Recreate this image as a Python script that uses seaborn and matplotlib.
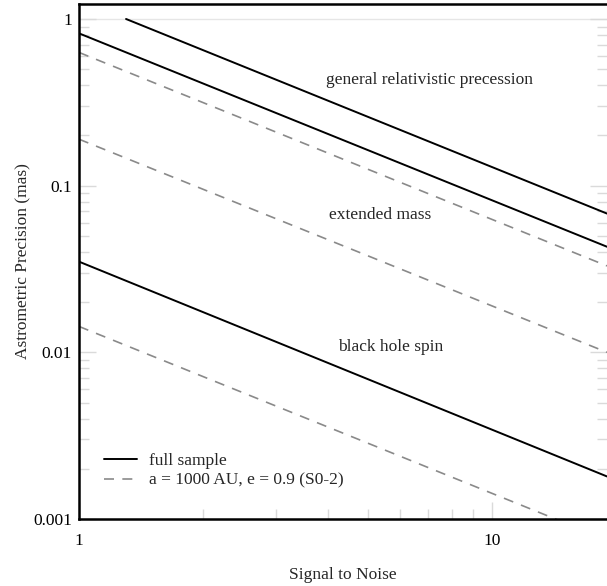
import numpy as np
import pandas as pd
import matplotlib
matplotlib.use("Agg")
import matplotlib.pyplot as plt
import matplotlib.ticker as mticker
from matplotlib.lines import Line2D
import seaborn as sns

# ---- data ----
gr_full_snr = [1.3, 19.0]
gr_full_prec = [1.0, 0.068]
em_full_snr = [1.0, 19.0]
em_full_prec = [0.82, 0.043]
gr_s02_snr = [1.0, 19.0]
gr_s02_prec = [0.63, 0.033]
em_s02_snr = [1.0, 19.0]
em_s02_prec = [0.19, 0.010]
spin_full_snr = [1.0, 19.0]
spin_full_prec = [0.035, 0.0018]
spin_s02_snr = [1.0, 19.0]
spin_s02_prec = [0.0143, 0.00075]

x_ticks = [1, 10]
x_ticklabels = ["1", "10"]
y_ticks = [0.001, 0.01, 0.1, 1]
y_ticklabels = ["0.001", "0.01", "0.1", "1"]

annotations = ["general relativistic precession", "extended mass", "black hole spin"]
annotation_x = [7.08, 5.36, 5.70]
annotation_y = [0.43, 0.0667, 0.0108]
legend_labels = ["full sample", "a = 1000 AU, e = 0.9 (S0-2)"]

sns.set_theme(style="white")
plt.rcParams["font.family"] = ["Liberation Serif", "DejaVu Serif"]

fig = plt.figure(figsize=(6.07, 5.86), dpi=100)
ax = fig.add_axes([79 / 607, 67 / 586, 1 - 79 / 607, (519 - 4) / 586])

solid_kw = dict(color="black", linewidth=1.4)
dash_kw = dict(color="#8a8a8a", linewidth=1.2)
DASH = (6, 5)

series = [
    (gr_full_snr, gr_full_prec, solid_kw, None),
    (em_full_snr, em_full_prec, solid_kw, None),
    (spin_full_snr, spin_full_prec, solid_kw, None),
    (gr_s02_snr, gr_s02_prec, dash_kw, DASH),
    (em_s02_snr, em_s02_prec, dash_kw, DASH),
    (spin_s02_snr, spin_s02_prec, dash_kw, DASH),
]
for xs, ys, kw, dashes in series:
    df = pd.DataFrame({"snr": xs, "prec": ys})
    sns.lineplot(data=df, x="snr", y="prec", ax=ax, **kw)
    if dashes is not None:
        ax.lines[-1].set_dashes(dashes)

ax.set_xscale("log")
ax.set_yscale("log")
ax.set_xlim(1, 19)
ax.set_ylim(0.001, 1.23)

# faint line at y = 1 (inner frame of original)
ax.axhline(1.0, color="#e6e6e6", linewidth=1.0, zorder=0)

ax.xaxis.set_major_locator(mticker.FixedLocator(x_ticks))
ax.xaxis.set_major_formatter(mticker.FixedFormatter(x_ticklabels))
ax.yaxis.set_major_locator(mticker.FixedLocator(y_ticks))
ax.yaxis.set_major_formatter(mticker.FixedFormatter(y_ticklabels))
ax.xaxis.set_minor_locator(mticker.LogLocator(base=10, subs=np.arange(2, 10)))
ax.yaxis.set_minor_locator(mticker.LogLocator(base=10, subs=np.arange(2, 10)))
ax.xaxis.set_minor_formatter(mticker.NullFormatter())
ax.yaxis.set_minor_formatter(mticker.NullFormatter())

ax.tick_params(which="both", direction="in", color="#dadada", labelcolor="black",
               labelsize=12.5, left=True, bottom=True, right=True, top=False)
ax.tick_params(which="major", length=12, width=1)
ax.tick_params(which="minor", length=7, width=1)
ax.tick_params(axis="y", which="major", pad=5)
ax.tick_params(axis="x", which="major", pad=10)

for side in ["left", "bottom", "top"]:
    ax.spines[side].set_color("black")
    ax.spines[side].set_linewidth(1.8)
    ax.spines[side].set_visible(True)
ax.spines["right"].set_visible(False)

ax.set_xlabel("Signal to Noise", fontsize=12.5, labelpad=13)
ax.set_ylabel("Astrometric Precision (mas)", fontsize=12.5, labelpad=1)

for txt, tx, ty in zip(annotations, annotation_x, annotation_y):
    ax.text(tx, ty, txt, fontsize=12.5, ha="center", va="center")

handles = [Line2D([0], [0], color="black", linewidth=1.4),
           Line2D([0], [0], color="#8a8a8a", linewidth=1.2, dashes=DASH)]
ax.legend(handles, legend_labels, loc="lower left", bbox_to_anchor=(0.025, 0.035),
          frameon=False, fontsize=12.5, handlelength=1.9, handletextpad=0.7,
          labelspacing=0.2, borderpad=0.2)

fig.savefig("out.png", dpi=100)
